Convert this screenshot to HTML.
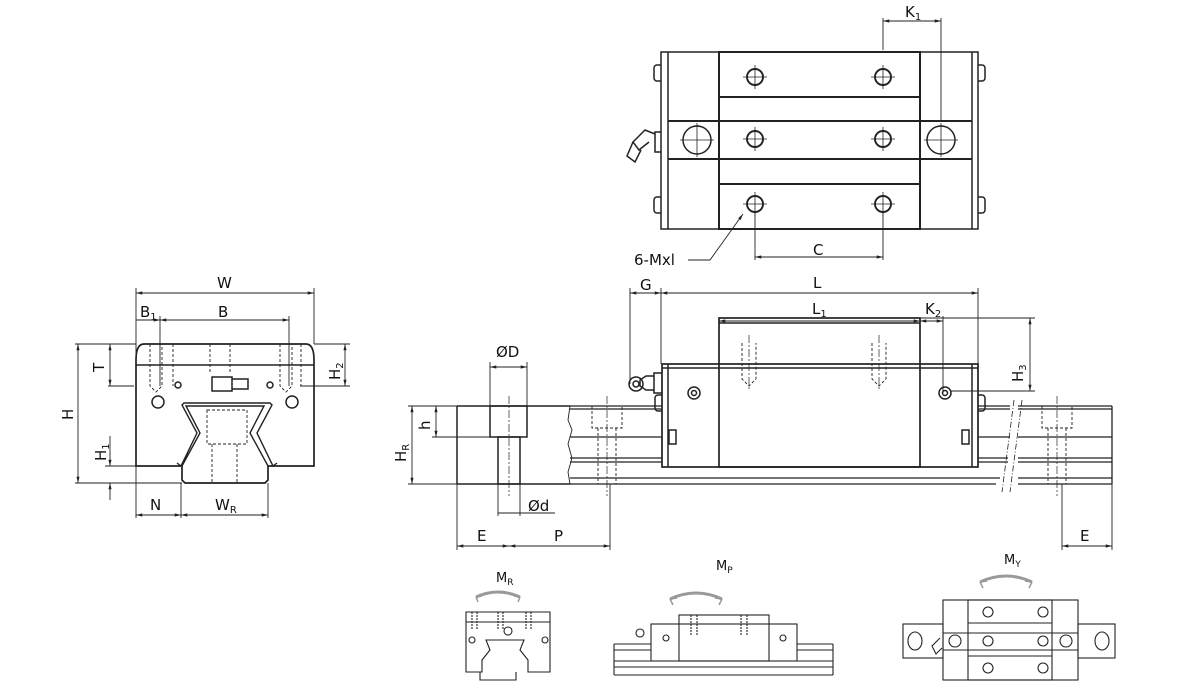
<!DOCTYPE html>
<html><head><meta charset="utf-8"><style>
html,body{margin:0;padding:0;background:#fff;}
svg{display:block;font-family:"DejaVu Sans","Liberation Sans",sans-serif;}
</style></head><body>
<svg width="1200" height="694" viewBox="0 0 1200 694" xmlns="http://www.w3.org/2000/svg">
<defs>
<marker id="a" viewBox="0 0 10 10" refX="10" refY="5" markerWidth="7" markerHeight="7" orient="auto-start-reverse"><path d="M0,2.5 L10,5 L0,7.5 z" fill="#222" stroke="none"/></marker>
</defs>
<g stroke="#222" stroke-width="1.5" fill="none">
<!-- TOP VIEW -->
<rect x="661" y="52" width="317" height="177"/>
<line x1="668" y1="52" x2="668" y2="229"/><line x1="972" y1="52" x2="972" y2="229"/>
<rect x="719" y="52" width="201" height="177" stroke-width="2"/>
<line x1="719" y1="97" x2="920" y2="97" stroke-width="2"/>
<line x1="719" y1="184" x2="920" y2="184" stroke-width="2"/>
<line x1="668" y1="121" x2="972" y2="121" stroke-width="2"/>
<line x1="668" y1="159" x2="972" y2="159" stroke-width="2"/>
<path d="M661,65 h-4 a3,3 0 0 0 -3,3 v10 a3,3 0 0 0 3,3 h4 M661,197 h-4 a3,3 0 0 0 -3,3 v10 a3,3 0 0 0 3,3 h4 M978,65 h4 a3,3 0 0 1 3,3 v10 a3,3 0 0 1 -3,3 h-4 M978,197 h4 a3,3 0 0 1 3,3 v10 a3,3 0 0 1 -3,3 h-4"/>
<g stroke-width="1.9">
<circle cx="755" cy="77" r="8"/><circle cx="883" cy="77" r="8"/>
<circle cx="755" cy="139" r="8"/><circle cx="883" cy="139" r="8"/>
<circle cx="755" cy="204" r="8"/><circle cx="883" cy="204" r="8"/>
</g>
<circle cx="697" cy="140" r="14"/><circle cx="941" cy="140" r="14"/>
<g stroke-width="0.8">
<path d="M743,77h24M755,65v24M871,77h24M883,65v24M743,139h24M755,127v24M871,139h24M883,127v24M743,204h24M755,192v24M871,204h24M883,192v24M680,140h34M697,123v34M924,140h34M941,123v34"/>
</g>
<path d="M661,132 h-6 v20 h6 M655,134 l-10,-4 l-12,12 l6,8 l10,-8 M633,142 l-6,14 l8,6 l6,-12"/>
<g stroke-width="0.9">
<line x1="883" y1="18" x2="883" y2="50"/><line x1="941" y1="18" x2="941" y2="120"/>
<line x1="883" y1="21" x2="941" y2="21" marker-start="url(#a)" marker-end="url(#a)"/>
<line x1="755" y1="212" x2="755" y2="260"/><line x1="883" y1="212" x2="883" y2="260"/>
<line x1="755" y1="257" x2="883" y2="257" marker-start="url(#a)" marker-end="url(#a)"/>
<path d="M688,260 h22 l33,-46" marker-end="url(#a)"/>
</g>
<!-- FRONT VIEW -->
<path d="M136,360 q0,-16 8,-16 h162 q8,0 8,16 v106 h-46 v14 l-3,3 h-80 l-3,-3 v-14 h-46 z" stroke-width="1.7"/>
<line x1="136" y1="365" x2="314" y2="365"/>
<path d="M177,463 l4,3 l16,-33 l-15,-28 l2,-2 h86 l2,2 l-15,28 l16,33 l4,-3 M182,466 l18,-33 l-14,-27 h78 l-14,27 l18,33" stroke-width="1.4"/>
<g stroke-width="0.9" stroke-dasharray="3,2">
<path d="M150,344v42l6,6l6,-6v-42M173,344v42 M210,344v30M230,344v30 M280,344v42l6,6l6,-6v-42M301,344v42 M207,410h40v34h-40z M212,444v38M237,444v38"/>
</g>
<circle cx="158" cy="402" r="6"/><circle cx="292" cy="402" r="6"/>
<circle cx="178" cy="385" r="3"/><circle cx="270" cy="385" r="3"/>
<path d="M212,377 h20 v14 h-20 z M232,379 h16 v10 h-16 z"/>
<g stroke-width="0.9">
<line x1="136" y1="288" x2="136" y2="518"/><line x1="314" y1="288" x2="314" y2="344"/>
<line x1="136" y1="293" x2="314" y2="293" marker-start="url(#a)" marker-end="url(#a)"/>
<line x1="160" y1="316" x2="160" y2="386"/><line x1="289" y1="316" x2="289" y2="386"/>
<line x1="136" y1="320" x2="160" y2="320" marker-end="url(#a)"/>
<line x1="160" y1="320" x2="289" y2="320" marker-start="url(#a)" marker-end="url(#a)"/>
<line x1="75" y1="344" x2="136" y2="344"/><line x1="75" y1="483" x2="182" y2="483"/>
<line x1="78" y1="344" x2="78" y2="483" marker-start="url(#a)" marker-end="url(#a)"/>
<line x1="108" y1="386" x2="134" y2="386"/>
<line x1="110" y1="344" x2="110" y2="386" marker-start="url(#a)" marker-end="url(#a)"/>
<line x1="314" y1="344" x2="350" y2="344"/><line x1="300" y1="386" x2="350" y2="386"/>
<line x1="345" y1="344" x2="345" y2="386" marker-start="url(#a)" marker-end="url(#a)"/>
<line x1="105" y1="466" x2="177" y2="466"/>
<line x1="110" y1="436" x2="110" y2="466" marker-end="url(#a)"/>
<line x1="110" y1="500" x2="110" y2="483" marker-end="url(#a)"/>
<line x1="181" y1="483" x2="181" y2="518"/><line x1="268" y1="483" x2="268" y2="518"/>
<line x1="136" y1="515" x2="181" y2="515" marker-start="url(#a)" marker-end="url(#a)"/>
<line x1="181" y1="515" x2="268" y2="515" marker-start="url(#a)" marker-end="url(#a)"/>
</g>
<!-- SIDE VIEW -->
<path d="M457,406 h113 M457,484 h113 M457,406 v78"/>
<path d="M570,406 l-2,14 l4,10 l-4,14 l4,14 l-4,14 l2,12" stroke-width="0.9"/>
<g stroke-width="1.3">
<path d="M570,406 h92 M570,409 h92 M570,437 h92 M570,458 h92 M570,462 h92 M570,478 h430 M570,484 h426"/>
<path d="M978,406 h32 M978,409 h32 M978,437 h32 M978,458 h30 M978,462 h30"/>
<path d="M1018,406 h94 M1018,409 h94 M1018,437 h94 M1018,458 h94 M1018,462 h94 M1018,478 h94 M1018,484 h94 M1112,406 v78"/>
</g>
<path d="M1014,400 l-12,92 M1022,400 l-12,92" stroke-width="0.8" stroke-dasharray="6,2,1,2"/>
<rect x="490" y="406" width="37" height="31"/><rect x="498" y="437" width="22" height="47"/>
<g stroke-width="0.9" stroke-dasharray="3,2">
<path d="M592,406v22h30v-22 M598,428v56M616,428v56 M1042,406v22h30v-22 M1048,428v56M1066,428v56"/>
<path d="M742,343v36l7,7l7,-7v-36 M872,343v36l7,7l7,-7v-36"/>
</g>
<path d="M509,396v100 M607,396v100 M1057,396v100 M749,335v55 M879,335v55" stroke-width="0.7" stroke-dasharray="8,2,2,2"/>
<rect x="662" y="364" width="316" height="103" stroke-width="1.7"/>
<line x1="668" y1="364" x2="668" y2="467"/><line x1="972" y1="364" x2="972" y2="467"/>
<rect x="719" y="318" width="201" height="149" stroke-width="1.7"/>
<line x1="719" y1="323" x2="920" y2="323"/>
<line x1="662" y1="368" x2="978" y2="368"/>
<circle cx="694" cy="393" r="6"/><circle cx="694" cy="393" r="2.5"/>
<circle cx="945" cy="393" r="6"/><circle cx="945" cy="393" r="2.5"/>
<rect x="669" y="430" width="7" height="14"/><rect x="962" y="430" width="7" height="14"/>
<path d="M662,395 h-4 a3,3 0 0 0 -3,3 v10 a3,3 0 0 0 3,3 h4 M978,395 h4 a3,3 0 0 1 3,3 v10 a3,3 0 0 1 -3,3 h-4"/>
<path d="M662,373 h-8 v20 h8 M654,376 h-8 l-6,4 v6 l6,4 h8"/><circle cx="636" cy="384" r="7"/><circle cx="636" cy="384" r="3"/>
<g stroke-width="0.9">
<line x1="630" y1="288" x2="630" y2="384"/><line x1="661" y1="288" x2="661" y2="364"/><line x1="978" y1="288" x2="978" y2="364"/>
<line x1="630" y1="293" x2="661" y2="293" marker-start="url(#a)" marker-end="url(#a)"/>
<line x1="661" y1="293" x2="978" y2="293" marker-start="url(#a)" marker-end="url(#a)"/>
<line x1="943" y1="316" x2="943" y2="393"/>
<line x1="719" y1="321" x2="920" y2="321" marker-start="url(#a)" marker-end="url(#a)"/>
<line x1="920" y1="321" x2="943" y2="321" marker-start="url(#a)" marker-end="url(#a)"/>
<line x1="920" y1="318" x2="1035" y2="318"/><line x1="950" y1="391" x2="1035" y2="391"/>
<line x1="1030" y1="318" x2="1030" y2="391" marker-start="url(#a)" marker-end="url(#a)"/>
<line x1="490" y1="362" x2="490" y2="406"/><line x1="527" y1="362" x2="527" y2="406"/>
<line x1="490" y1="367" x2="527" y2="367" marker-start="url(#a)" marker-end="url(#a)"/>
<line x1="432" y1="437" x2="490" y2="437"/><line x1="408" y1="406" x2="457" y2="406"/><line x1="408" y1="484" x2="457" y2="484"/>
<line x1="436" y1="406" x2="436" y2="437" marker-start="url(#a)" marker-end="url(#a)"/>
<line x1="412" y1="406" x2="412" y2="484" marker-start="url(#a)" marker-end="url(#a)"/>
<line x1="498" y1="484" x2="498" y2="516"/><line x1="520" y1="484" x2="520" y2="516"/>
<line x1="498" y1="513" x2="555" y2="513"/>
<line x1="457" y1="484" x2="457" y2="550"/><line x1="610" y1="484" x2="610" y2="550"/>
<line x1="457" y1="546" x2="509" y2="546" marker-start="url(#a)" marker-end="url(#a)"/>
<line x1="509" y1="546" x2="610" y2="546" marker-start="url(#a)" marker-end="url(#a)"/>
<line x1="1062" y1="484" x2="1062" y2="550"/><line x1="1112" y1="484" x2="1112" y2="550"/>
<line x1="1062" y1="546" x2="1112" y2="546" marker-start="url(#a)" marker-end="url(#a)"/>
</g>
<!-- BOTTOM SMALL -->
<g stroke-width="1.1">
<path d="M476,597 q22,-10 44,0" stroke-width="3" stroke="#999"/>
<path d="M476,597 l2,5 M476,597 l6,-1 M520,597 l-2,5 M520,597 l-6,-1" stroke-width="1.5" stroke="#999"/>
<path d="M466,612 h84 v60 h-22 v-12 l-8,-10 l4,-10 h-38 l4,10 l-8,10 v12 h-16 z M466,622 h84 M480,672 v8 h36 v-8"/>
<path d="M472,612v18M477,612v18M498,612v18M503,612v18M526,612v18M531,612v18" stroke-dasharray="2,1"/>
<circle cx="472" cy="640" r="3"/><circle cx="545" cy="640" r="3"/><circle cx="508" cy="631" r="4"/>
<path d="M670,599 q26,-12 52,0" stroke-width="3" stroke="#999"/>
<path d="M670,599 l3,6 M670,599 l7,-1 M722,599 l-3,6 M722,599 l-7,-1" stroke-width="1.5" stroke="#999"/>
<rect x="651" y="624" width="146" height="37"/><rect x="679" y="615" width="90" height="46"/>
<path d="M614,644 h37 M797,644 h36 M614,650 h37 M797,650 h36 M614,661 h219 M614,667 h219 M614,675 h219 M614,644 v31 M833,644 v31"/>
<circle cx="666" cy="638" r="3"/><circle cx="783" cy="638" r="3"/><circle cx="640" cy="633" r="4"/>
<path d="M691,615v20M697,615v20M741,615v20M747,615v20" stroke-dasharray="2,1"/>
<path d="M980,582 q26,-12 52,0" stroke-width="3" stroke="#999"/>
<path d="M980,582 l3,6 M980,582 l7,-1 M1032,582 l-3,6 M1032,582 l-7,-1" stroke-width="1.5" stroke="#999"/>
<rect x="943" y="600" width="135" height="80"/><rect x="968" y="600" width="84" height="80"/>
<path d="M968,623h84 M943,633h135 M943,650h135 M968,656h84"/>
<rect x="903" y="624" width="40" height="34"/><rect x="1078" y="624" width="37" height="34"/>
<ellipse cx="915" cy="641" rx="7" ry="9"/><ellipse cx="1102" cy="641" rx="7" ry="9"/>
<circle cx="988" cy="612" r="5"/><circle cx="1043" cy="612" r="5"/><circle cx="988" cy="641" r="5"/><circle cx="1043" cy="641" r="5"/><circle cx="988" cy="668" r="5"/><circle cx="1043" cy="668" r="5"/><circle cx="955" cy="641" r="6"/><circle cx="1066" cy="641" r="6"/>
<path d="M940,638 l-8,8 l4,8 l6,-6"/>
</g>
</g>
<g fill="#111" font-size="15">
<text x="905" y="17">K<tspan font-size="10" dy="3">1</tspan></text>
<text x="813" y="255">C</text>
<text x="634" y="265">6-Mxl</text>
<text x="217" y="288">W</text>
<text x="140" y="317">B<tspan font-size="10" dy="3">1</tspan></text>
<text x="218" y="317">B</text>
<text x="150" y="510">N</text>
<text x="215" y="510">W<tspan font-size="10" dy="3">R</tspan></text>
<text x="640" y="290">G</text>
<text x="813" y="288">L</text>
<text x="812" y="314">L<tspan font-size="10" dy="3">1</tspan></text>
<text x="925" y="314">K<tspan font-size="10" dy="3">2</tspan></text>
<text x="496" y="357">ØD</text>
<text x="528" y="511">Ød</text>
<text x="477" y="541">E</text>
<text x="554" y="541">P</text>
<text x="1080" y="541">E</text>
<text x="496" y="582" font-size="13">M<tspan font-size="9" dy="3">R</tspan></text>
<text x="716" y="570" font-size="13">M<tspan font-size="9" dy="3">P</tspan></text>
<text x="1004" y="564" font-size="13">M<tspan font-size="9" dy="3">Y</tspan></text>
<text transform="translate(73,420) rotate(-90)">H</text>
<text transform="translate(104,372) rotate(-90)">T</text>
<text transform="translate(106,461) rotate(-90)">H<tspan font-size="10" dy="3">1</tspan></text>
<text transform="translate(340,380) rotate(-90)">H<tspan font-size="10" dy="3">2</tspan></text>
<text transform="translate(1023,382) rotate(-90)">H<tspan font-size="10" dy="3">3</tspan></text>
<text transform="translate(430,430) rotate(-90)">h</text>
<text transform="translate(406,462) rotate(-90)">H<tspan font-size="10" dy="3">R</tspan></text>
</g>
</svg>
</body></html>
